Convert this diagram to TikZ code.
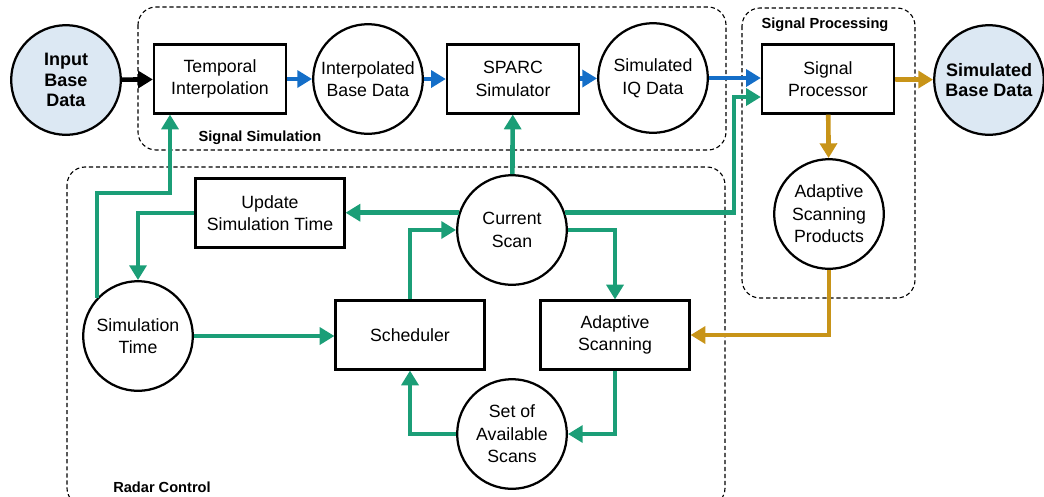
\documentclass[tikz,border=0pt]{standalone}
\usepackage{fontspec}
\setmainfont{Liberation Sans}
\usetikzlibrary{arrows.meta}

\begin{document}
\begin{tikzpicture}[x=0.025cm,y=-0.025cm,
 blk/.style={draw,line width=1.6pt,fill=white,align=center,
   minimum width=3.3cm,minimum height=1.72cm,
   font=\fontsize{12.6}{16}\selectfont},
 wblk/.style={blk,minimum width=3.72cm},
 dsk/.style={blk,circle,minimum size=2.74cm,inner sep=0pt},
 ext/.style={dsk,fill=bfill,font=\fontsize{12.8}{14.8}\selectfont\bfseries},
 grp/.style={draw,line width=0.8pt,rounded corners=0.45cm,
   dash pattern=on 3pt off 2pt},
 grplbl/.style={font=\fontsize{10.4}{12}\selectfont\bfseries},
 link/.style={line width=3.3pt,-{Triangle[length=10.5pt,width=12pt]}}]
 \definecolor{bfill}{RGB}{220,232,243}
 \definecolor{sim}{RGB}{20,110,200}
 \definecolor{ctl}{RGB}{27,158,119}
 \definecolor{prc}{RGB}{200,148,24}
 \clip (0,0) rectangle (1044,496);
 \path[grp] (138,7) rectangle (726,150);
 \path[grp] (742,8) rectangle (915,298);
 \path[grp] (67,167) rectangle (725,506);
 \node[grplbl] (lsim) at (260,138) {Signal Simulation};
 \node[grplbl] (lprc) at (825,25) {Signal Processing};
 \node[grplbl] (lctl) at (162,487) {Radar Control};

 \node[ext] (inp) at (66,80) {Input\\Base\\Data};
 \node[blk] (temp) at (220,79) {Temporal\\Interpolation};
 \node[dsk] (interp) at (368,79) {Interpolated\\Base Data};
 \node[blk] (sparc) at (513,79) {SPARC\\Simulator};
 \node[dsk] (iq) at (653,78) {Simulated\\IQ Data};
 \node[blk] (sigproc) at (828,79) {Signal\\Processor};
 \node[ext] (simbase) at (989,80) {Simulated\\Base Data};
 \node[dsk] (asp) at (829,214) {Adaptive\\Scanning\\Products};
 \node[wblk] (update) at (270,213) {Update\\Simulation Time};
 \node[dsk] (cur) at (512,230) {Current\\Scan};
 \node[dsk] (simtime) at (138,336) {Simulation\\Time};
 \node[wblk] (sched) at (410,335) {Scheduler};
 \node[wblk] (adapt) at (615,335) {Adaptive\\Scanning};
 \node[dsk] (avail) at (512,434) {Set of\\Available\\Scans};
 \coordinate (tk) at (170,193);
 \coordinate (sp) at (734,97);

 \draw[link,black] (inp) -- (temp);
 \foreach \src/\dst in {temp/interp, interp/sparc, sparc/iq} {
   \draw[link,sim] (\src) -- (\dst);
 }
 \draw[link,sim] (iq.east) -- (iq.east -| sigproc.west);
 \draw[link,prc] (sigproc) -- (simbase);
 \draw[link,prc] (sigproc) -- (asp);
 \draw[link,prc] (asp.south) |- (adapt.east);
 \draw[link,ctl] (cur) -- (sparc);
 \draw[link,ctl] (cur.162) -- (cur.162 -| update.east);
 \draw[link,ctl] (update.west) -| (simtime.north);
 \draw[link,ctl] (simtime.137) |- (tk) -- (tk |- temp.south);
 \draw[link,ctl] (simtime.east) -- (simtime.east -| sched.west);
 \draw[link,ctl] (sched.north) |- (cur.west);
 \draw[link,ctl] (cur.east) -| (adapt.north);
 \draw[link,ctl] (cur.18) -| (sp) -- (sp -| sigproc.west);
 \draw[link,ctl] (adapt.south) |- (avail.east);
 \draw[link,ctl] (avail.west) -| (sched.south);
\end{tikzpicture}
\end{document}
